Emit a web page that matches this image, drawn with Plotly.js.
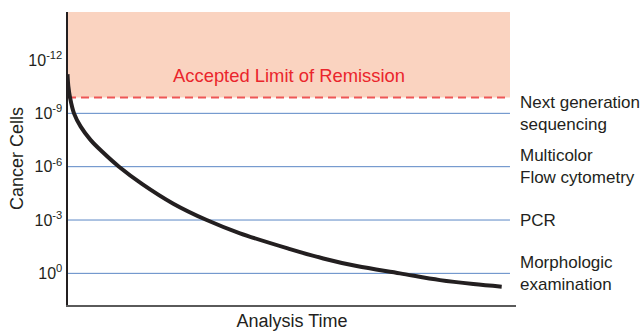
<!DOCTYPE html>
<html>
<head>
<meta charset="utf-8">
<script src="https://cdn.plot.ly/plotly-3.0.1.min.js"></script>
<style>html,body{margin:0;padding:0;background:#fff;}#chart{width:641px;height:332px;}</style>
</head>
<body>
<div id="chart"></div>
<script>
// Data
const analysisTime = [0, 0.8, 2.5, 6.5, 13.2, 23.2, 34.8, 51.5, 74.8, 105.8, 139.2, 172.5, 222.5, 255.8, 289.2, 332.5, 372.5, 405.8, 434.2];
const cancerCells = [6.3e-12, 2.9e-11, 1.26e-10, 1e-9, 5.6e-9, 3.2e-8, 1.45e-7, 1e-6, 9.5e-6, 1.2e-4, 1e-3, 5.6e-3, 4.3e-2, 0.145, 0.39, 1, 2.4, 4.0, 5.6];
const tickValues = [1, 1e-3, 1e-6, 1e-9, 1e-12];
const tickLabels = ['10<sup>0</sup>', '10<sup>-3</sup>', '10<sup>-6</sup>', '10<sup>-9</sup>', '10<sup>-12</sup>'];
const methodLevels = [1e-9, 1e-6, 1e-3, 1];
const methodLabels = ['Next generation<br>sequencing', 'Multicolor<br>Flow cytometry', 'PCR', 'Morphologic<br>examination'];
const remissionLimit = 1.3e-10;
const remissionLabel = 'Accepted Limit of Remission';
const yTop = 2e-15;

const FONT = '"Liberation Sans", Arial, Helvetica, sans-serif';
const TXT = '#231f20';
const gridEnd = 0.9866;

const shapes = [];
shapes.push({type: 'rect', xref: 'paper', yref: 'y', x0: 0, x1: gridEnd, y0: remissionLimit, y1: yTop,
  fillcolor: '#fad3c0', line: {width: 0}, layer: 'below'});
methodLevels.forEach(v => shapes.push({type: 'line', xref: 'paper', yref: 'y', x0: 0, x1: gridEnd, y0: v, y1: v,
  line: {color: '#5b87c6', width: 1}, layer: 'below'}));
shapes.push({type: 'line', xref: 'paper', yref: 'y', x0: 0, x1: gridEnd, y0: remissionLimit, y1: remissionLimit,
  line: {color: '#ee5656', width: 2, dash: '8px,5px'}, layer: 'below'});

const annotations = [];
annotations.push({xref: 'paper', yref: 'y', x: 0.493, y: Math.log10(remissionLimit) - 1.23, text: remissionLabel,
  showarrow: false, xanchor: 'center', yanchor: 'middle', font: {family: FONT, size: 18.4, color: '#ea252c'}});
methodLabels.forEach((t, i) => {
  annotations.push({xref: 'paper', yref: 'y', x: 1, y: Math.log10(methodLevels[i]), text: t,
    showarrow: false, xanchor: 'left', yanchor: 'middle', align: 'left', xshift: 2,
    font: {family: FONT, size: 17, color: TXT}});
});

const trace = {
  x: analysisTime, y: cancerCells, type: 'scatter', mode: 'lines',
  line: {color: '#231f20', width: 4, shape: 'spline', smoothing: 1},
  hoverinfo: 'skip', cliponaxis: false
};

const layout = {
  width: 641, height: 332,
  margin: {l: 68, r: 125, t: 12, b: 27, pad: 0},
  paper_bgcolor: '#ffffff', plot_bgcolor: '#ffffff',
  showlegend: false,
  font: {family: FONT, color: TXT},
  xaxis: {
    range: [0.5, 448.5], showgrid: false, zeroline: false, showticklabels: false, ticks: '',
    showline: true, linecolor: '#5a5a5a', linewidth: 2,
    title: {text: 'Analysis Time', font: {family: FONT, size: 18, color: TXT}, standoff: 8}
  },
  yaxis: {
    type: 'log', range: [1.78, -14.7], showgrid: false, zeroline: false,
    tickvals: tickValues, ticktext: tickLabels, ticks: '',
    tickfont: {family: FONT, size: 16, color: TXT},
    showline: true, linecolor: '#231f20', linewidth: 2.5,
    title: {text: 'Cancer Cells', font: {family: FONT, size: 18, color: TXT}, standoff: 0}
  },
  shapes: shapes,
  annotations: annotations
};

Plotly.newPlot('chart', [trace], layout, {staticPlot: true, displayModeBar: false});
</script>
</body>
</html>
